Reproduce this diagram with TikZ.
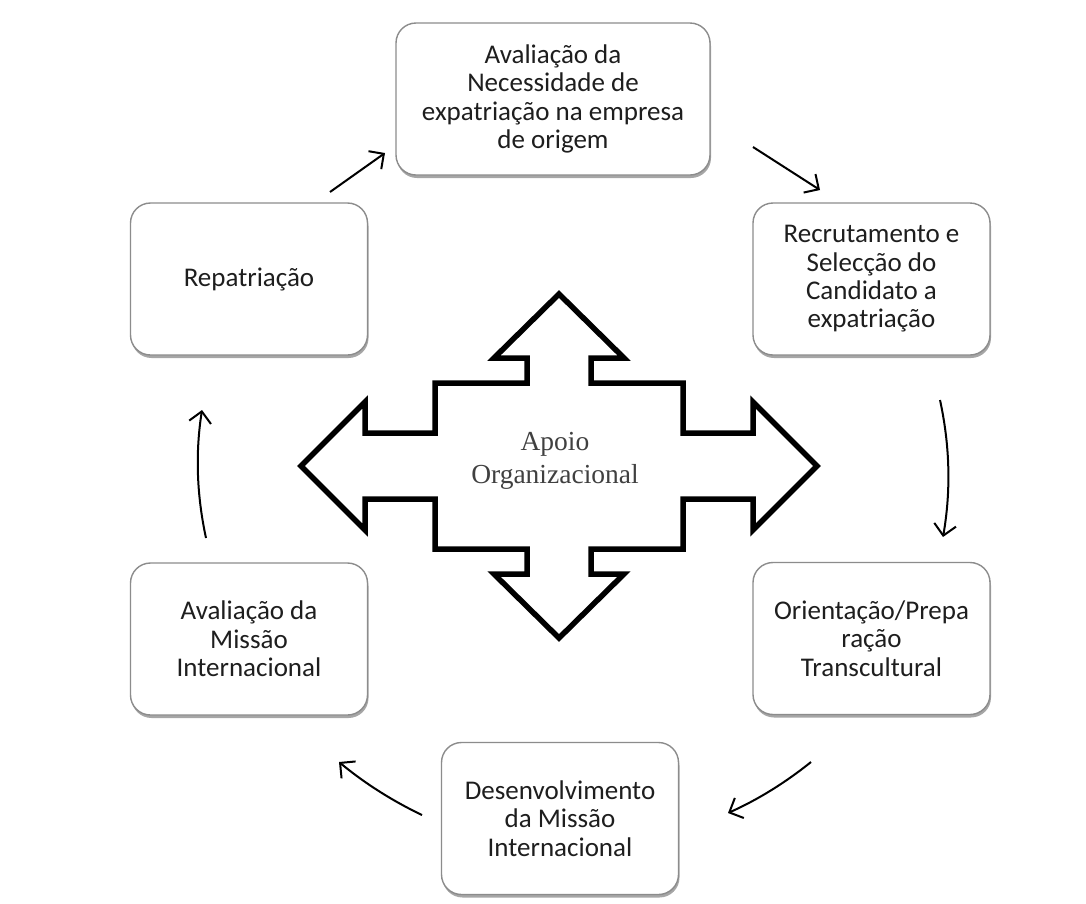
\documentclass[tikz,border=0pt]{standalone}
\usepackage{fontspec}
\setmainfont{Carlito}
\newfontfamily\timesf{Liberation Serif}
\usetikzlibrary{arrows.meta,shadows}
\definecolor{txt}{HTML}{1E1E1E}
\definecolor{bord}{HTML}{8C8C8C}
\begin{document}
\begin{tikzpicture}[x=1pt,y=-1pt,
  stage/.style={draw=bord, line width=1.4pt, rounded corners=20pt, fill=white,
    align=center, text=txt, font=\fontsize{27}{28.3}\selectfont,
    minimum height=152pt, minimum width=237pt, inner sep=0pt,
    drop shadow={shadow xshift=1pt, shadow yshift=-3pt, opacity=0.35, fill=black}},
  cyc/.style={line width=2pt, -{Straight Barb[length=11pt,width=22pt]}},
  crossline/.style={line width=5.5pt, line join=miter, draw=black}]
\fill[white] (0,0) rectangle (1086,903);
\useasboundingbox (0,0) rectangle (1086,903);

% stages
\node[stage, minimum width=314pt] (need) at (553,99) {Avaliação da\\Necessidade de\\expatriação na empresa\\de origem};
\node[stage] (recr) at (871.5,279) {Recrutamento e\\Selecção do\\Candidato a\\expatriação};
\node[stage] (orie) at (871.5,638.5) {Orientação/Prepa\\ração\\Transcultural};
\node[stage] (dese) at (560,818.5) {Desenvolvimento\\da Missão\\Internacional};
\node[stage] (aval) at (249,639) {Avaliação da\\Missão\\Internacional};
\node[stage] (repa) at (249,279) {Repatriação};

% central four-way arrow
\begin{scope}[shift={(559,466)}]
\draw[crossline] (0,-172) -- (65,-108) -- (32,-108) -- (32,-83) -- (124,-83) -- (124,-33)
  -- (194,-33) -- (194,-64) -- (258,0) -- (194,64) -- (194,33) -- (124,33) -- (124,83)
  -- (32,83) -- (32,108) -- (65,108) -- (0,172) -- (-65,108) -- (-32,108) -- (-32,83)
  -- (-124,83) -- (-124,33) -- (-194,33) -- (-194,64) -- (-258,0) -- (-194,-64)
  -- (-194,-33) -- (-124,-33) -- (-124,-83) -- (-32,-83) -- (-32,-108) -- (-65,-108) -- cycle;
\end{scope}
\node[font=\timesf\fontsize{27.5}{33}\selectfont, text=txt!85!white, align=center] (apoio) at (555,461) {Apoio\\Organizacional};

% cycle arrows
\coordinate (a1s) at (330,192); \coordinate (a1e) at (385,153);
\coordinate (a2s) at (753,147); \coordinate (a2e) at (820,190);
\coordinate (a3s) at (940,400); \coordinate (a3e) at (943,537);
\coordinate (a4s) at (811,762); \coordinate (a4e) at (728,813);
\coordinate (a5s) at (422,815); \coordinate (a5e) at (339,762);
\coordinate (a6s) at (206,538); \coordinate (a6e) at (202,410);
\draw[cyc] (a1s) -- (a1e);
\draw[cyc] (a2s) -- (a2e);
\draw[cyc] (a3s) .. controls (950,446) and (951,491) .. (a3e);
\draw[cyc] (a4s) .. controls (785.4,782.6) and (757.8,799.7) .. (a4e);
\draw[cyc] (a5s) .. controls (392.1,800.7) and (364.5,783.1) .. (a5e);
\draw[cyc] (a6s) .. controls (196.7,495) and (195.3,453) .. (a6e);
\end{tikzpicture}
\end{document}
